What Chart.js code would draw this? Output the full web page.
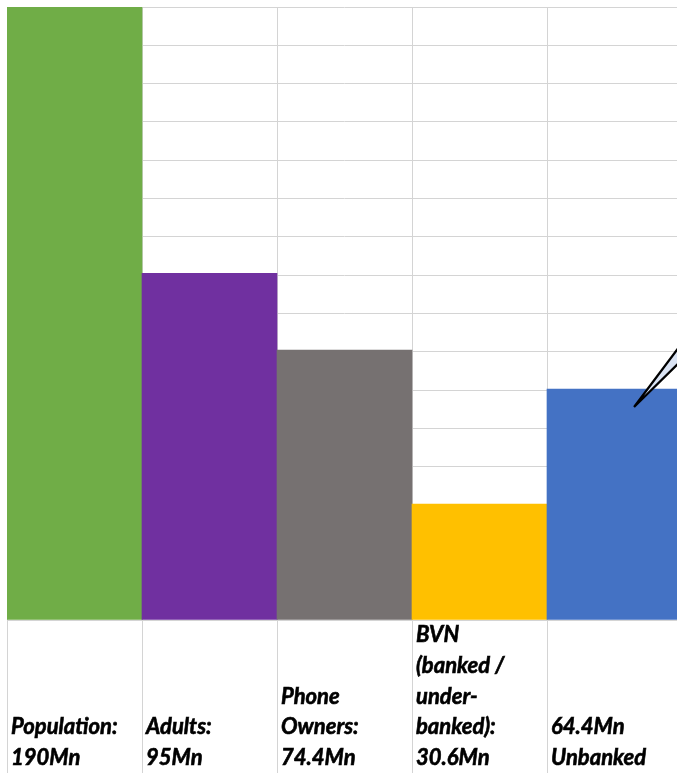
<!DOCTYPE html>
<html>
<head>
<meta charset="utf-8">
<script src="https://cdn.jsdelivr.net/npm/chart.js@4"></script>
<style>
  html, body { margin: 0; padding: 0; background: #fff; overflow: hidden; }
  canvas { display: block; }
</style>
</head>
<body>
<canvas id="chartz" width="682" height="773"></canvas>
<script>
// categories + bar heights
const categories = ['Population', 'Adults', 'Phone Owners', 'BVN', 'Unbanked'];
const barValues = [190, 95, 74, 31.8, 63.3];
const barColors = ['#70AD47', '#7030A0', '#767171', '#FFC000', '#4472C4'];
// cell text under each bar
const cellLabels = [
    ['Population:', '190Mn'],
    ['Adults:', '95Mn'],
    ['Phone', 'Owners:', '74.4Mn'],
    ['BVN', '(banked /', 'under-', 'banked):', '30.6Mn'],
    ['64.4Mn', 'Unbanked']
];
const yMax = 168;
const rowStep = 10.5;

const gridColor = '#d4d4d4';

// draws the text in the cells below the bars, bottom aligned
const cellText = {
    id: 'cellText',
    afterDraw(chart) {
        const ctx = chart.ctx;
        const x = chart.scales.x;
        const half = (x.getPixelForValue(1) - x.getPixelForValue(0)) / 2;
        ctx.save();
        ctx.font = 'italic bold 22px Lato';
        ctx.fillStyle = '#000';
        ctx.strokeStyle = '#000';
        ctx.lineWidth = 0.6;
        ctx.textAlign = 'left';
        ctx.textBaseline = 'alphabetic';
        const lineH = 30.7;
        const lastBase = 765;
        cellLabels.forEach((lines, i) => {
            const left = x.getPixelForValue(i) - half + 4;
            lines.forEach((t, j) => {
                const y = lastBase - (lines.length - 1 - j) * lineH;
                ctx.fillText(t, left, y);
                ctx.strokeText(t, left, y);
            });
        });
        ctx.restore();
    }
};

// callout pointer touching the last bar
const calloutTip = {
    id: 'calloutTip',
    afterDatasetsDraw(chart) {
        const bar = chart.getDatasetMeta(0).data[4];
        if (!bar) return;
        const ctx = chart.ctx;
        const tx = bar.x + bar.width * 0.145;
        const ty = bar.y + 18;
        ctx.save();
        ctx.beginPath();
        ctx.moveTo(tx, ty);
        ctx.lineTo(tx + 60, ty - 80);
        ctx.lineTo(tx + 60, ty - 59);
        ctx.closePath();
        ctx.fillStyle = '#DAE3F3';
        ctx.fill();
        ctx.lineWidth = 2.2;
        ctx.strokeStyle = '#000';
        ctx.stroke();
        ctx.restore();
    }
};

var myCanvas = document.getElementById('chartz').getContext('2d');

var chart = {
    type: 'bar',
    data: {
        labels: categories,
        datasets: [{
            data: barValues,
            backgroundColor: barColors,
            borderWidth: 0,
            barPercentage: 1,
            categoryPercentage: 1
        }]
    },
    options: {
        responsive: false,
        animation: false,
        layout: { padding: { left: 7, top: 7, right: 0, bottom: 0 } },
        plugins: {
            legend: { display: false },
            tooltip: { enabled: false }
        },
        scales: {
            x: {
                offset: true,
                grid: {
                    offset: true,
                    color: gridColor,
                    lineWidth: 1,
                    drawTicks: true,
                    tickLength: 153
                },
                border: { display: true, color: gridColor },
                ticks: { display: false }
            },
            y: {
                min: 0,
                max: yMax,
                ticks: { display: false, stepSize: rowStep },
                grid: { color: gridColor, lineWidth: 1, drawTicks: false },
                border: { display: false }
            }
        }
    },
    plugins: [cellText, calloutTip]
};
var statChart = new Chart(myCanvas, chart);
</script>
</body>
</html>
